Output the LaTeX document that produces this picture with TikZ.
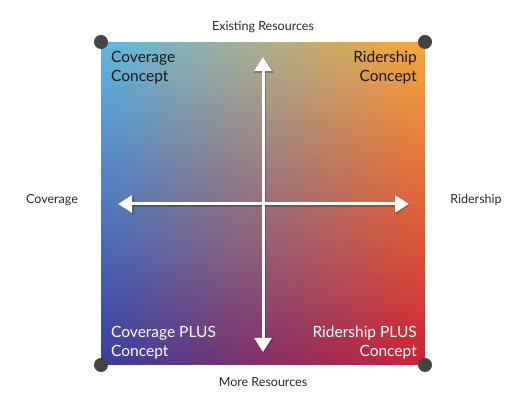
\documentclass[tikz,border=0pt]{standalone}
\usepackage{fontspec}
\setmainfont{Lato}
\usetikzlibrary{arrows.meta}
\definecolor{TL}{HTML}{62B6E0}
\definecolor{TR}{HTML}{F6A53A}
\definecolor{BL}{HTML}{3A3E9E}
\definecolor{BR}{HTML}{CE2234}
\definecolor{dotc}{HTML}{444444}
\tikzset{
  quad/.style={font=\fontsize{15.5}{19}\selectfont, inner sep=0pt, text=black!90},
  axislbl/.style={font=\fontsize{12.5}{14}\selectfont, text=black!85, inner sep=0pt},
  cornerdot/.style={circle, fill=dotc, minimum size=14pt, inner sep=0pt},
  axisarrow/.style={white, line width=3pt, {Triangle[width=17pt,length=14pt]}-{Triangle[width=17pt,length=14pt]}},
  axisshadow/.style={black, opacity=0.25, line width=4pt, {Triangle[width=19pt,length=15pt]}-{Triangle[width=19pt,length=15pt]}}
}
\begin{document}
\begin{tikzpicture}[x=1pt,y=1pt]
\useasboundingbox (0,0) rectangle (527,411);
% bilinear gradient square x 101..425, y 46..369
\foreach \i in {0,...,53}{
  \pgfmathtruncatemacro\p{round(100*\i/53)}
  \pgfmathsetmacro\ya{369-\i*6}
  \pgfmathsetmacro\yb{369-(\i+1)*6-0.5}
  \colorlet{lc}{BL!\p!TL}
  \colorlet{rc}{BR!\p!TR}
  \foreach \j in {0,...,53}{
    \pgfmathtruncatemacro\q{round(100*\j/53)}
    \pgfmathsetmacro\xa{101+\j*6}
    \pgfmathsetmacro\xb{101+(\j+1)*6+0.5}
    \fill[rc!\q!lc] (\xa,\yb) rectangle (\xb,\ya);
  }
}
\fill[white] (101,45.9) rectangle (430,30);
\fill[white] (425,30) rectangle (440,380);
% axes
\coordinate (L) at (118,207);
\coordinate (R) at (409,207);
\coordinate (T) at (263,354);
\coordinate (B) at (263,59);
\draw[axisshadow, transform canvas={shift={(0.8pt,-0.8pt)}}] (L) -- (R);
\draw[axisshadow, transform canvas={shift={(0.8pt,-0.8pt)}}] (T) -- (B);
\draw[axisarrow] (L) -- (R);
\draw[axisarrow] (T) -- (B);
% corner dots
\node[cornerdot] (d1) at (101,369) {};
\node[cornerdot] (d2) at (425,369) {};
\node[cornerdot] (d3) at (101,46) {};
\node[cornerdot] (d4) at (425,46) {};
% quadrant labels
\node[quad, anchor=north west, align=left] (cc) at (111,360) {Coverage\\Concept};
\node[quad, anchor=north east, align=right] (rc) at (417,360) {Ridership\\Concept};
\node[quad, anchor=south west, align=left, text=white] (cpc) at (111,52) {Coverage PLUS\\Concept};
\node[quad, anchor=south east, align=right, text=white] (rpc) at (417,52) {Ridership PLUS\\Concept};
% axis labels
\node[axislbl] (er) at (263,384) {Existing Resources};
\node[axislbl] (mr) at (263,29) {More Resources};
\node[axislbl] (cv) at (52,211) {Coverage};
\node[axislbl] (rs) at (476,211) {Ridership};
\end{tikzpicture}
\end{document}
